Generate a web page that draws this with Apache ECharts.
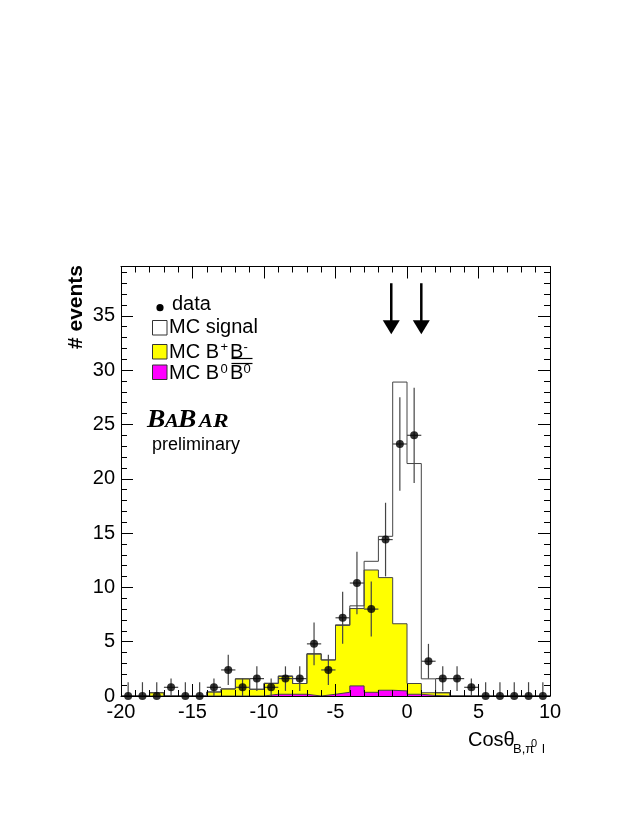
<!DOCTYPE html>
<html><head><meta charset="utf-8">
<script src="https://cdn.jsdelivr.net/npm/echarts@6/dist/echarts.min.js"></script>
<style>html,body{margin:0;padding:0;background:#fff}#c{width:632px;height:817px}</style>
</head><body><div id="c"></div>
<script>
// ---- data ----
const binLow  = [-20,-19,-18,-17,-16,-15,-14,-13,-12,-11,-10,-9,-8,-7,-6,-5,-4,-3,-2,-1,0,1,2,3,4,5,6,7,8,9];
const binHigh = 10;
const dataVal = [0,0,0,0.8,0,0,0.8,2.4,0.8,1.6,0.8,1.6,1.6,4.8,2.4,7.2,10.4,8.0,14.4,23.2,24.0,3.2,1.6,1.6,0.8,0,0,0,0,0];
const dataErr = [1.27,1.27,1.27,0.8,1.27,1.27,0.8,1.39,0.8,1.13,0.8,1.13,1.13,1.96,1.39,2.4,2.88,2.53,3.39,4.31,4.38,1.6,1.13,1.13,0.8,1.27,1.27,1.27,1.27,1.27];
const b0Val   = [0,0,0,0,0,0,0,0,0,0,0.16,0.16,0.16,0,0.16,0.34,0.93,0.34,0.53,0.47,0.16,0.05,0,0,0,0,0,0,0,0];
const bpbmVal = [0,0,0.3,0,0,0,0.37,0.65,1.58,0.62,0.99,1.64,0.99,3.85,3.16,6.16,7.12,11.26,10.37,6.18,0.99,0.25,0.3,0,0,0,0,0,0,0];
const sigVal  = [0,0,0,0,0,0,0,0,0,0,0.03,0.05,0,0.05,0,0.05,0.25,0.8,3.8,22.25,20.25,1.28,0,0,0,0,0,0,0,0];
const cutX    = [-1.1, 1.0];
const cutArrow = [38.0, 33.3];   // arrow top, arrow tip (y values)
const xMin = -20, xMax = 10, yMax = 39.54;

// ---- build stacked tops ----
const yellowTop = b0Val.map((v,i)=>v + bpbmVal[i]);
const signalTop = yellowTop.map((v,i)=>v + sigVal[i]);
function stepData(vals){
  const d = binLow.map((x,i)=>[x, vals[i]]);
  d.push([binHigh, vals[vals.length-1]]);
  return d;
}
const FONT = '"Liberation Sans", Arial, Helvetica, sans-serif';
const SERIF = '"Liberation Serif", "Times New Roman", serif';
function T(x, base, text, size, weight, family, sx){
  return {type:'text', x:x, y: base - 0.347*size, z:10, scaleX: sx || 1,
    style:{text:text, font:(weight||'')+' '+size+'px '+(family||FONT), fill:'#000', align:'left', verticalAlign:'middle'}};
}

const chart = echarts.init(document.getElementById('c'), null, {renderer:'canvas'});
const axisCommon = {
  axisLine:{show:true, onZero:false, lineStyle:{color:'#000', width:1}},
  splitLine:{show:false}
};
const minorAxisLine = {show:false, onZero:false};
const option = {
  animation:false,
  backgroundColor:'#fff',
  grid:{left:121, right:82, top:266.5, bottom:121, containLabel:false},
  xAxis:[
    Object.assign({type:'value', position:'bottom', min:xMin, max:xMax, interval:5, z:6,
      axisTick:{show:true, inside:true, length:12, lineStyle:{color:'#000'}},
      minorTick:{show:true, splitNumber:5, length:6, lineStyle:{color:'#000'}},
      axisLabel:{show:true, fontSize:20, fontFamily:FONT, color:'#000', margin:6}}, axisCommon),
    Object.assign({type:'value', position:'top', min:xMin, max:xMax, interval:5, z:6,
      axisTick:{show:true, inside:true, length:12, lineStyle:{color:'#000'}},
      minorTick:{show:true, splitNumber:5, length:6, lineStyle:{color:'#000'}},
      axisLabel:{show:false}}, axisCommon)
  ],
  yAxis:[
    Object.assign({type:'value', position:'left', min:0, max:yMax, interval:5, z:6,
      axisTick:{show:true, inside:true, length:12, lineStyle:{color:'#000'}},
      axisLabel:{show:true, fontSize:20, fontFamily:FONT, color:'#000', margin:6, showMaxLabel:false,
        formatter:v => (Math.abs(v/5 - Math.round(v/5)) < 1e-6 ? String(Math.round(v)) : '')}}, axisCommon),
    {type:'value', position:'left', min:0, max:yMax, interval:1, z:6, axisLine:minorAxisLine, splitLine:{show:false},
      axisTick:{show:true, inside:true, length:6, lineStyle:{color:'#000'}}, axisLabel:{show:false}},
    Object.assign({type:'value', position:'right', min:0, max:yMax, interval:5, z:6,
      axisTick:{show:true, inside:true, length:12, lineStyle:{color:'#000'}}, axisLabel:{show:false}}, axisCommon),
    {type:'value', position:'right', min:0, max:yMax, interval:1, z:6, axisLine:minorAxisLine, splitLine:{show:false},
      axisTick:{show:true, inside:true, length:6, lineStyle:{color:'#000'}}, axisLabel:{show:false}}
  ],
  series:[
    {name:'MC signal', type:'line', step:'end', data:stepData(signalTop), symbol:'none', z:2,
      lineStyle:{color:'#444', width:1}, areaStyle:{color:'#ffffff', opacity:1}},
    {name:'MC B+B-', type:'line', step:'end', data:stepData(yellowTop), symbol:'none', z:2,
      lineStyle:{color:'#444', width:1}, areaStyle:{color:'#ffff00', opacity:1}},
    {name:'MC B0B0', type:'line', step:'end', data:stepData(b0Val), symbol:'none', z:2,
      lineStyle:{color:'#444', width:1}, areaStyle:{color:'#ff00ff', opacity:1}},
    {name:'errors', type:'custom', z:4, silent:true, encode:{x:0, y:1},
      data: dataVal.map((v,i)=>[binLow[i]+0.5, v, dataErr[i]]),
      renderItem:(params, api)=>{
        const x = api.value(0), y = api.value(1), e = api.value(2);
        const p1 = api.coord([x, Math.max(0, y - e)]), p2 = api.coord([x, y + e]);
        const children = [{type:'line', shape:{x1:p1[0], y1:p1[1], x2:p2[0], y2:p2[1]}, style:{stroke:'#444', lineWidth:1.2}}];
        if (y > 0) {
          const a = api.coord([x - 0.5, y]), b = api.coord([x + 0.5, y]);
          children.push({type:'line', shape:{x1:a[0], y1:a[1], x2:b[0], y2:b[1]}, style:{stroke:'#444', lineWidth:1.2}});
        }
        return {type:'group', children:children};
      }},
    {name:'data', type:'scatter', z:5, symbol:'circle', symbolSize:8, itemStyle:{color:'#000'},
      data: dataVal.map((v,i)=>[binLow[i]+0.5, v])},
    {name:'cuts', type:'custom', z:4, silent:true, encode:{x:0, y:1},
      data: cutX.map(x=>[x, cutArrow[0], cutArrow[1]]),
      renderItem:(params, api)=>{
        const x = api.value(0);
        const top = api.coord([x, api.value(1)]), tip = api.coord([x, api.value(2)]);
        const hh = 14, hw = 8.5;
        return {type:'group', children:[
          {type:'line', shape:{x1:top[0], y1:top[1], x2:tip[0], y2:tip[1]-hh+1}, style:{stroke:'#000', lineWidth:2.5}},
          {type:'polygon', shape:{points:[[tip[0]-hw, tip[1]-hh],[tip[0]+hw, tip[1]-hh],[tip[0], tip[1]]]}, style:{fill:'#000'}}
        ]};
      }}
  ],
  graphic:[
    // legend
    {type:'circle', shape:{cx:160, cy:307.7, r:3.6}, style:{fill:'#000'}, z:10},
    T(172, 311.7, 'data', 20),
    {type:'rect', shape:{x:152.5, y:320.5, width:14.5, height:14.5}, style:{fill:'#fff', stroke:'#333', lineWidth:1}, z:10},
    T(169, 334.3, 'MC signal', 20),
    {type:'rect', shape:{x:152.5, y:344.5, width:14.5, height:14.5}, style:{fill:'#ffff00', stroke:'#333', lineWidth:1}, z:10},
    T(169, 359.3, 'MC B', 20), T(220.5, 352.3, '+', 13), T(230, 359.3, 'B', 20), T(243.5, 352.3, '-', 13),
    {type:'line', shape:{x1:231.5, y1:358.5, x2:252.5, y2:358.5}, style:{stroke:'#000', lineWidth:1.2}, z:10},
    {type:'rect', shape:{x:152.5, y:365, width:14.5, height:14.5}, style:{fill:'#ff00ff', stroke:'#333', lineWidth:1}, z:10},
    T(169, 380.7, 'MC B', 20), T(220.5, 373.5, '0', 13), T(230, 380.7, 'B', 20), T(243.5, 373.5, '0', 13),
    {type:'line', shape:{x1:231.5, y1:363.5, x2:252.5, y2:363.5}, style:{stroke:'#000', lineWidth:1.2}, z:10},
    // BABAR logo
    T(147, 429, 'B', 25, 'italic bold', SERIF, 1.1),
    T(165, 429, 'A', 18, 'italic bold', SERIF, 1.15),
    T(178, 429, 'B', 25, 'italic bold', SERIF, 1.1),
    T(199, 429, 'A', 18, 'italic bold', SERIF, 1.15),
    T(213, 429, 'R', 18, 'italic bold', SERIF, 1.3),
    T(152, 451.5, 'preliminary', 18),
    // axis titles
    {type:'text', x:76, y:265, rotation:Math.PI/2, z:10,
      style:{text:'# events', font:'bold 21px '+FONT, fill:'#000', align:'right', verticalAlign:'middle'}},
    T(468, 747, 'Cosθ', 20),
    T(513, 753.5, 'B,π', 13),
    T(531, 748, '0', 11),
    T(542, 753.5, 'l', 13)
  ]
};
chart.setOption(option);
</script>
</body></html>
